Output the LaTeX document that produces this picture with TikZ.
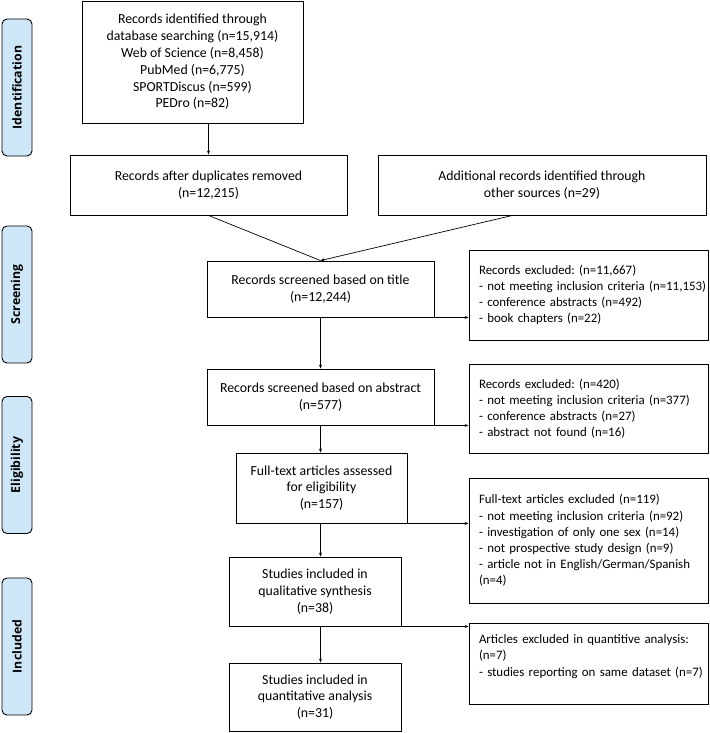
\documentclass[tikz,border=0pt]{standalone}
\usepackage{fontspec}
\setmainfont{Carlito}
\newfontfamily\sidefont{Open Sans}
\usetikzlibrary{arrows.meta,calc}
\definecolor{sidefill}{HTML}{CDE7F9}
\tikzset{
  box/.style={draw, line width=0.9pt, align=center, inner sep=2pt, font=\fontsize{13.8}{16.8}\selectfont},
  exbox/.style={draw, line width=0.9pt, align=left, inner xsep=10pt, text width=219pt, minimum width=239pt, font=\frenchspacing\fontsize{12.9}{16.2}\selectfont},
  side/.style={draw, line width=0.9pt, fill=sidefill, rounded corners=5pt, minimum width=137pt, minimum height=30pt, rotate=90, font=\sidefont\bfseries\fontsize{12.3}{15}\selectfont},
  arr/.style={-{Stealth[length=4pt,width=3pt]}, line width=0.7pt},
  ln/.style={line width=0.7pt}
}
\begin{document}
\begin{tikzpicture}[x=1pt,y=-1pt]
\useasboundingbox (0,0) rectangle (709,733);
% side labels
\node[side] (s1) at (17,87.5) {Identification};
\node[side] (s2) at (17,294.5) {Screening};
\node[side] (s3) at (17,465) {Eligibility};
\node[side] (s4) at (17,646.5) {Included};
% main boxes
\node[box, minimum width=221pt, minimum height=122pt] (b1) at (192.5,62) {Records identified through\\database searching (n=15,914)\\Web of Science (n=8,458)\\PubMed (n=6,775)\\SPORTDiscus (n=599)\\PEDro (n=82)};
\node[box, minimum width=277pt, minimum height=60pt] (b2) at (208.5,185) {Records after duplicates removed\\(n=12,215)};
\node[box, minimum width=328pt, minimum height=60pt] (b3) at (542,185) {Additional records identified through\\other sources (n=29)};
\node[box, minimum width=227pt, minimum height=56pt] (b4) at (320.5,289) {Records screened based on title\\(n=12,244)};
\node[box, minimum width=227pt, minimum height=56pt] (b5) at (320.5,397) {Records screened based on abstract\\(n=577)};
\node[box, minimum width=171pt, minimum height=70pt] (b6) at (321.5,488) {Full-text articles assessed\\for eligibility\\(n=157)};
\node[box, minimum width=172pt, minimum height=69pt] (b7) at (315,591.5) {Studies included in\\qualitative synthesis\\(n=38)};
\node[box, minimum width=172pt, minimum height=68pt] (b8) at (315,697) {Studies included in\\quantitative analysis\\(n=31)};
% exclusion boxes
\node[exbox, minimum height=90pt] (e1) at (588.5,295) {\mbox{Records excluded: (n=11,667)}\\\mbox{- not meeting inclusion criteria (n=11,153)}\\\mbox{- conference abstracts (n=492)}\\\mbox{- book chapters (n=22)}};
\node[exbox, minimum height=89pt] (e2) at (588.5,408.5) {\mbox{Records excluded: (n=420)}\\\mbox{- not meeting inclusion criteria (n=377)}\\\mbox{- conference abstracts (n=27)}\\\mbox{- abstract not found (n=16)}};
\node[exbox, minimum height=125pt] (e3) at (588.5,540.5) {\mbox{Full-text articles excluded (n=119)}\\\mbox{- not meeting inclusion criteria (n=92)}\\\mbox{- investigation of only one sex (n=14)}\\\mbox{- not prospective study design (n=9)}\\\mbox{- article not in English/German/Spanish}\\(n=4)};
\node[exbox, minimum height=81pt] (e4) at (588.5,663.5) {\mbox{Articles excluded in quantitive analysis:}\\(n=7)\\\mbox{- studies reporting on same dataset (n=7)}\\\mbox{}};
% connectors
\draw[arr] (b2.north |- b1.south) -- (b2.north);
\draw[ln] (b2.south) -- (b4.north);
\draw[arr] ($(b3.south west)!0.41!(b3.south east)$) -- (b4.north);
\draw[arr] (b4.south) -- (b5.north);
\draw[arr] (b5.south) -- (b5.south |- b6.north);
\draw[arr] (b5.south |- b6.south) -- (b5.south |- b7.north);
\draw[arr] (b5.south |- b7.south) -- (b5.south |- b8.north);
\draw[arr] (b4.south east) -- (b4.south east -| e1.west);
\draw[arr] (b5.south east) -- (b5.south east -| e2.west);
\draw[arr] (b6.south east) -- (b6.south east -| e3.west);
\draw[arr] (b7.south east) -- (b7.south east -| e4.west);
\end{tikzpicture}
\end{document}
